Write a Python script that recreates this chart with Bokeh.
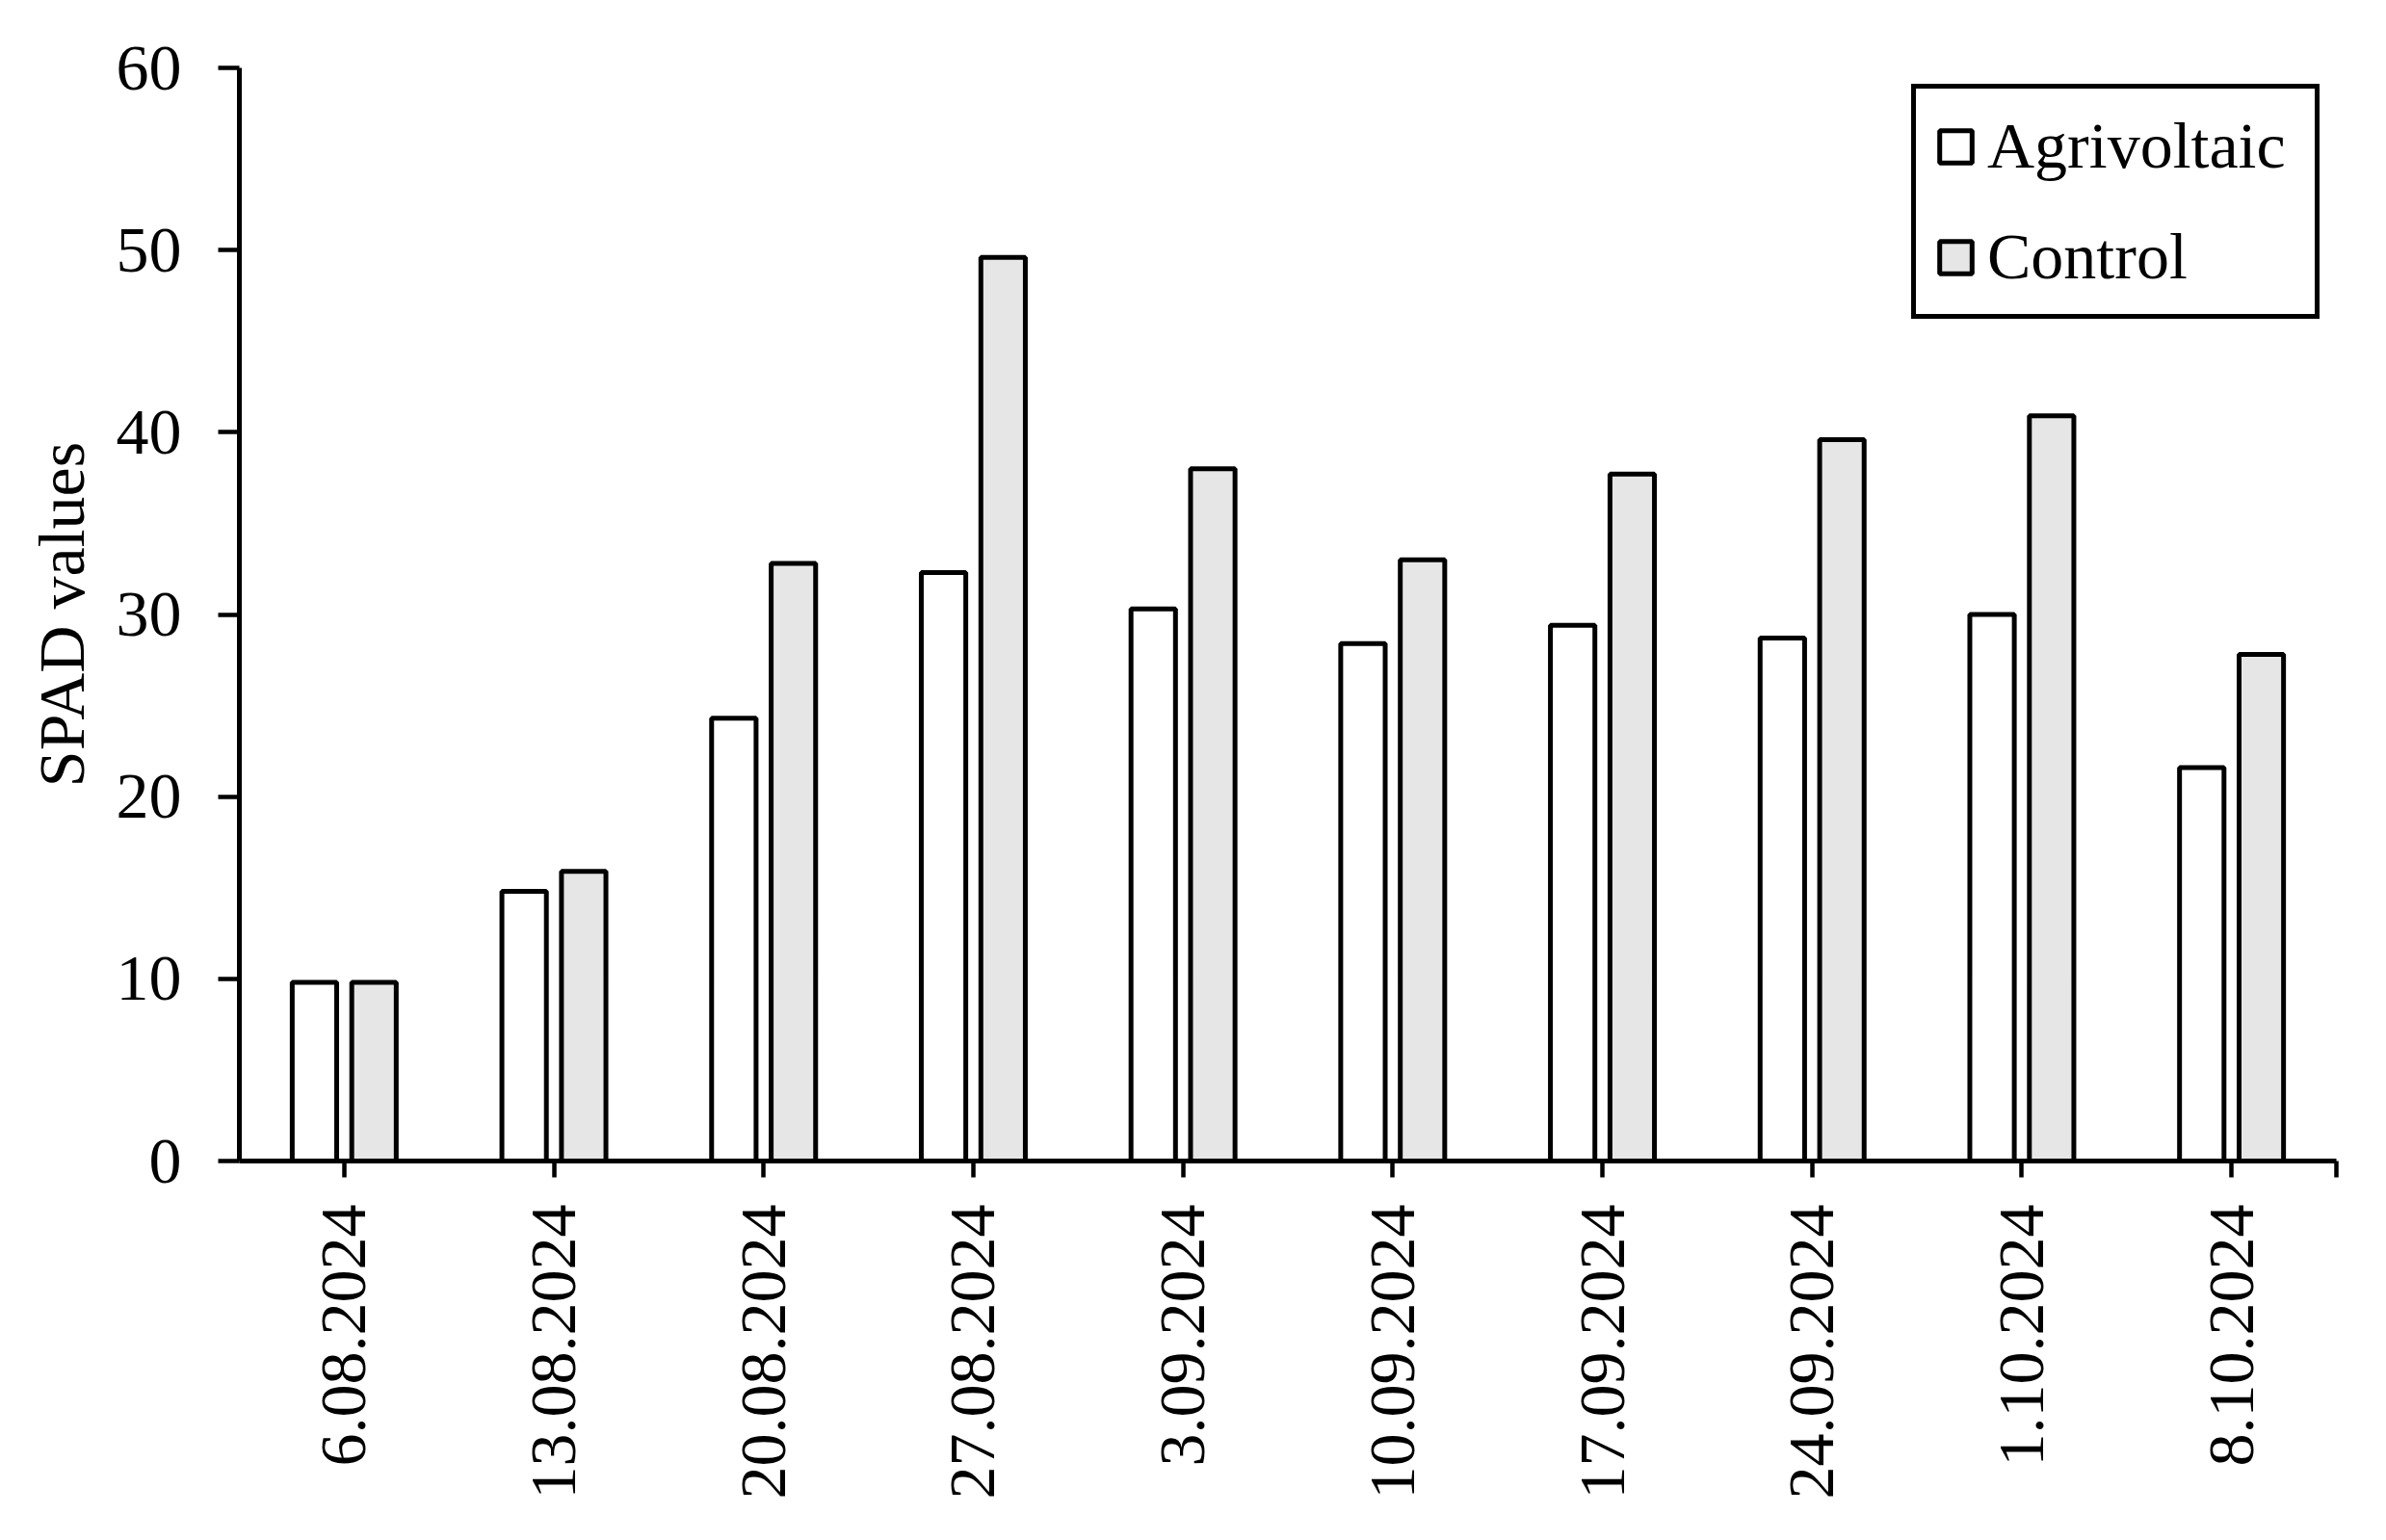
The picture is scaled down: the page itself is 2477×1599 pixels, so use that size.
import math
from bokeh.plotting import figure
from bokeh.models import ColumnDataSource, FixedTicker, Legend, LegendItem
from bokeh.embed import file_html
from bokeh.resources import INLINE

dates = ["6.08.2024", "13.08.2024", "20.08.2024", "27.08.2024", "3.09.2024",
         "10.09.2024", "17.09.2024", "24.09.2024", "1.10.2024", "8.10.2024"]
agrivoltaic = [9.8, 14.8, 24.3, 32.3, 30.3, 28.4, 29.4, 28.7, 30.0, 21.6]
control = [9.8, 15.9, 32.8, 49.6, 38.0, 33.0, 37.7, 39.6, 40.9, 27.8]
y_ticks = [0, 10, 20, 30, 40, 50, 60]

FONT = "Liberation Serif"

centers = [i + 0.5 for i in range(len(dates))]
src = ColumnDataSource(dict(
    xa=[c - 0.142 for c in centers],
    xc=[c + 0.142 for c in centers],
    agri=agrivoltaic,
    ctrl=control,
))

p = figure(width=2461, height=1583, output_backend="svg", toolbar_location=None,
           x_range=(0, len(dates)), y_range=(0, 60),
           min_border_left=248, min_border_right=36, min_border_top=70, min_border_bottom=378)
p.outline_line_color = None
p.xgrid.grid_line_color = None
p.ygrid.grid_line_color = None
p.background_fill_color = "white"
p.border_fill_color = "white"

r1 = p.vbar(x="xa", top="agri", width=0.212, bottom=0, source=src,
            fill_color="white", line_color="black", line_width=5)
r2 = p.vbar(x="xc", top="ctrl", width=0.212, bottom=0, source=src,
            fill_color="#e6e6e6", line_color="black", line_width=5)

# x axis
xa = p.xaxis[0]
xa.ticker = FixedTicker(ticks=centers + [float(len(dates))])
overrides = {c: d for c, d in zip(centers, dates)}
overrides[float(len(dates))] = ""
xa.major_label_overrides = overrides
xa.major_label_orientation = math.pi / 2
xa.major_label_text_font = FONT
xa.major_label_text_font_size = "68px"
xa.major_label_text_color = "black"
xa.major_label_standoff = 28
xa.axis_line_width = 5
xa.axis_line_color = "black"
xa.major_tick_line_width = 4.5
xa.major_tick_line_color = "black"
xa.major_tick_out = 17
xa.major_tick_in = 0
xa.minor_tick_line_color = None

# y axis
ya = p.yaxis[0]
ya.ticker = FixedTicker(ticks=y_ticks)
ya.major_label_text_font = FONT
ya.major_label_text_font_size = "68px"
ya.major_label_text_color = "black"
ya.major_label_standoff = 38
ya.axis_line_width = 5
ya.axis_line_color = "black"
ya.major_tick_line_width = 4.5
ya.major_tick_line_color = "black"
ya.major_tick_out = 22
ya.major_tick_in = 0
ya.minor_tick_line_color = None
ya.axis_label = "SPAD values"
ya.axis_label_text_font = FONT
ya.axis_label_text_font_size = "68px"
ya.axis_label_text_font_style = "normal"
ya.axis_label_text_color = "black"
ya.axis_label_standoff = 16

legend = Legend(items=[LegendItem(label="Agrivoltaic", renderers=[r1]),
                       LegendItem(label="Control", renderers=[r2])],
                location="top_right", margin=17)
legend.border_line_color = "black"
legend.border_line_alpha = 1.0
legend.border_line_width = 5
legend.background_fill_color = "white"
legend.background_fill_alpha = 1
legend.label_text_font = FONT
legend.label_text_font_size = "68px"
legend.label_text_color = "black"
legend.glyph_width = 42
legend.glyph_height = 42
legend.label_standoff = 12
legend.label_width = 320
legend.padding = 20
legend.spacing = 36
p.add_layout(legend)

open("out.html", "w").write(file_html(p, INLINE))
